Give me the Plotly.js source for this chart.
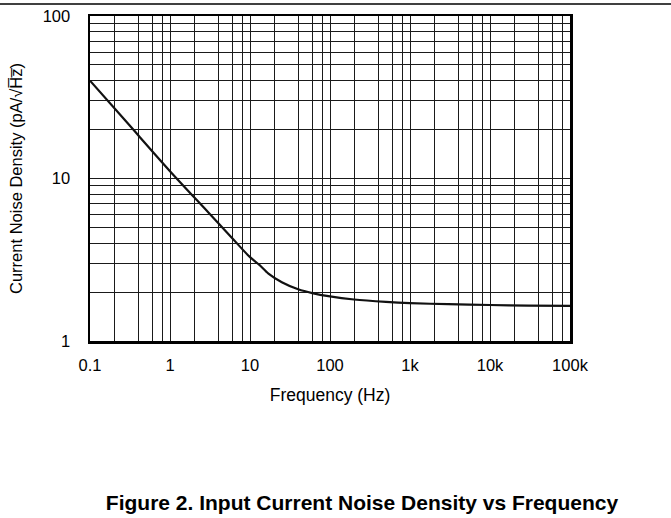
<!DOCTYPE html>
<html>
<head>
<meta charset="utf-8">
<script src="https://cdn.plot.ly/plotly-3.0.1.min.js"></script>
<style>html,body{margin:0;padding:0;background:#fff;}#chart{width:671px;height:518px;}</style>
</head>
<body>
<div id="chart"></div>
<script>
// Data
const frequencyHz = [0.1, 0.3, 1, 3, 6, 10, 13, 17, 25, 40, 60, 100, 200, 500, 1000, 3000, 10000, 30000, 100000];
const currentNoise = [40, 21.7, 11.1, 6.2, 4.29, 3.28, 2.95, 2.6, 2.3, 2.08, 1.97, 1.88, 1.8, 1.74, 1.71, 1.685, 1.665, 1.652, 1.645];

const xTickVals = [0.1, 1, 10, 100, 1000, 10000, 100000];
const xTickText = ['0.1', '1', '10', '100', '1k', '10k', '100k'];
const yTickVals = [1, 10, 100];
const yTickText = ['1', '10', '100'];

// grid positions
const xDecades = [0.1, 1, 10, 100, 1000, 10000];
const xMinorMult = [2, 4, 6, 8];
const yDecades = [1, 10];
const yMinorMult = [2, 3, 4, 5, 6, 7, 8, 9];
const xMinor = [];
xDecades.forEach(d => xMinorMult.forEach(m => xMinor.push(d * m)));
const yMinor = [];
yDecades.forEach(d => yMinorMult.forEach(m => yMinor.push(d * m)));

const font = {family: 'Liberation Sans, Arial, sans-serif', color: '#000'};
const gridColor = '#1a1a1a';

const trace = {
  x: frequencyHz, y: currentNoise, type: 'scatter', mode: 'lines',
  line: {color: '#111', width: 2.2, shape: 'spline', smoothing: 0.8},
  hoverinfo: 'skip'
};

const L = 90, R = 101, T = 16, B = 177, W = 671, H = 518;
const pw = W - L - R, ph = H - T - B;

const layout = {
  width: W, height: H,
  margin: {l: L, r: R, t: T, b: B, pad: 0},
  paper_bgcolor: '#fff', plot_bgcolor: '#fff',
  showlegend: false,
  font: Object.assign({size: 16.5}, font),
  title: {
    text: '<b>Figure 2. Input Current Noise Density vs Frequency</b>',
    font: Object.assign({size: 21}, font),
    xref: 'container', yref: 'container',
    x: 362 / 671, xanchor: 'center', y: 1 - 503 / 518, yanchor: 'middle'
  },
  xaxis: {
    type: 'log', range: [-1, 5],
    tickmode: 'array', tickvals: xTickVals, ticktext: xTickText,
    ticks: '', ticklabelstandoff: 8,
    tickfont: Object.assign({size: 16.5}, font),
    showgrid: true, gridcolor: gridColor, gridwidth: 1,
    minor: {tickmode: 'array', tickvals: xMinor, showgrid: true, gridcolor: gridColor, gridwidth: 1, ticks: ''},
    showline: true, mirror: true, linecolor: '#000', linewidth: 2.5,
    zeroline: false,
    title: {text: 'Frequency (Hz)', font: Object.assign({size: 17.5}, font), standoff: 16}
  },
  yaxis: {
    type: 'log', range: [0, 2],
    tickmode: 'array', tickvals: yTickVals, ticktext: yTickText,
    ticks: '', ticklabelstandoff: 14,
    tickfont: Object.assign({size: 16.5}, font),
    showgrid: true, gridcolor: gridColor, gridwidth: 1,
    minor: {tickmode: 'array', tickvals: yMinor, showgrid: true, gridcolor: gridColor, gridwidth: 1, ticks: ''},
    showline: true, mirror: true, linecolor: '#000', linewidth: 2.5,
    zeroline: false,
    title: {text: 'Current Noise Density (pA/√H̅z̅)', font: Object.assign({size: 16.5}, font), standoff: 16}
  },
  shapes: [{
    type: 'line', xref: 'paper', yref: 'paper',
    x0: -L / pw, x1: (W - L) / pw,
    y0: 1 + (T - 4) / ph, y1: 1 + (T - 4) / ph,
    line: {color: '#000', width: 1.5}
  }]
};

Plotly.newPlot('chart', [trace], layout, {displayModeBar: false, staticPlot: true});
</script>
</body>
</html>
